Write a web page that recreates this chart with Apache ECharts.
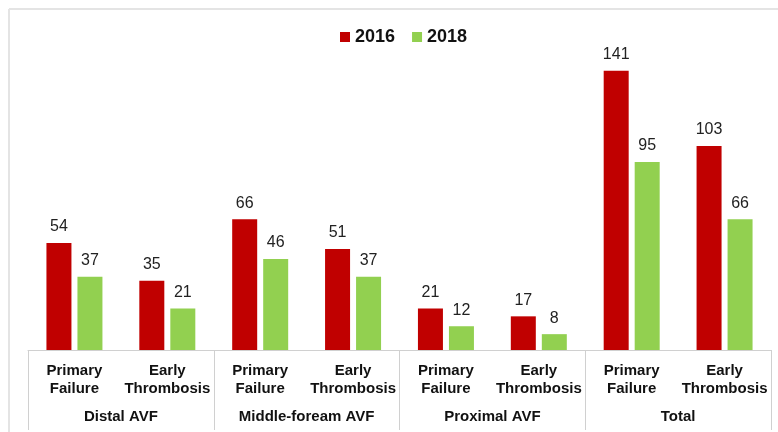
<!DOCTYPE html>
<html>
<head>
<meta charset="utf-8">
<script src="https://cdn.jsdelivr.net/npm/echarts@6/dist/echarts.min.js"></script>
<style>
  html, body { margin: 0; padding: 0; background: #fff; }
  #main { width: 778px; height: 432px; }
</style>
</head>
<body>
<div id="main"></div>
<script>
// categories (inner and outer level)
var categories = ['Primary\nFailure', 'Early\nThrombosis', 'Primary\nFailure', 'Early\nThrombosis',
                  'Primary\nFailure', 'Early\nThrombosis', 'Primary\nFailure', 'Early\nThrombosis'];
var groups = ['Distal AVF', 'Middle-foream AVF', 'Proximal AVF', 'Total'];

// series values
var values2016 = [54, 35, 66, 51, 21, 17, 141, 103];
var values2018 = [37, 21, 46, 37, 12, 8, 95, 66];

var myChart = echarts.init(document.getElementById('main'));

var fontFam = '"Liberation Sans", Arial, sans-serif';

myChart.setOption({
    animation: false,
    textStyle: {fontFamily: fontFam},
    graphic: [
        // faint frame on top and left
        {type: 'line', shape: {x1: 9, y1: 9, x2: 778, y2: 9}, style: {stroke: '#e4e4e4', lineWidth: 2}},
        {type: 'line', shape: {x1: 9, y1: 9, x2: 9, y2: 432}, style: {stroke: '#e4e4e4', lineWidth: 2}}
    ],
    legend: {
        data: ['2016', '2018'],
        left: 335,
        top: 23,
        itemWidth: 10,
        itemHeight: 10,
        itemGap: 17,
        icon: 'rect',
        textStyle: {fontSize: 18, fontWeight: 'bold', color: '#111', fontFamily: fontFam, padding: [0, 0, 0, 0]}
    },
    grid: {left: 28, right: 7, top: 53, bottom: 82, containLabel: false},
    xAxis: [
        {
            type: 'category',
            data: categories,
            axisLine: {show: true, lineStyle: {color: '#d0d0d0', width: 1}},
            axisTick: {show: false},
            axisLabel: {
                interval: 0,
                margin: 12,
                fontSize: 15,
                fontWeight: 'bold',
                lineHeight: 18,
                color: '#111',
                fontFamily: fontFam
            }
        },
        {
            type: 'category',
            data: groups,
            position: 'bottom',
            axisLine: {show: false},
            axisTick: {show: true, length: 80, lineStyle: {color: '#d0d0d0', width: 1}},
            axisLabel: {
                interval: 0,
                margin: 59,
                fontSize: 15,
                fontWeight: 'bold',
                color: '#111',
                fontFamily: fontFam
            }
        }
    ],
    yAxis: {
        type: 'value',
        min: 0,
        max: 150,
        show: false,
        splitLine: {show: false}
    },
    series: [
        {
            name: '2016',
            type: 'bar',
            xAxisIndex: 0,
            data: values2016,
            barWidth: 25,
            barGap: '24%',
            itemStyle: {color: '#c00000'},
            label: {show: true, position: 'top', distance: 8, fontSize: 16, color: '#222', fontFamily: fontFam}
        },
        {
            name: '2018',
            type: 'bar',
            xAxisIndex: 0,
            data: values2018,
            barWidth: 25,
            barGap: '24%',
            itemStyle: {color: '#92d050'},
            label: {show: true, position: 'top', distance: 8, fontSize: 16, color: '#222', fontFamily: fontFam}
        }
    ]
});
</script>
</body>
</html>
